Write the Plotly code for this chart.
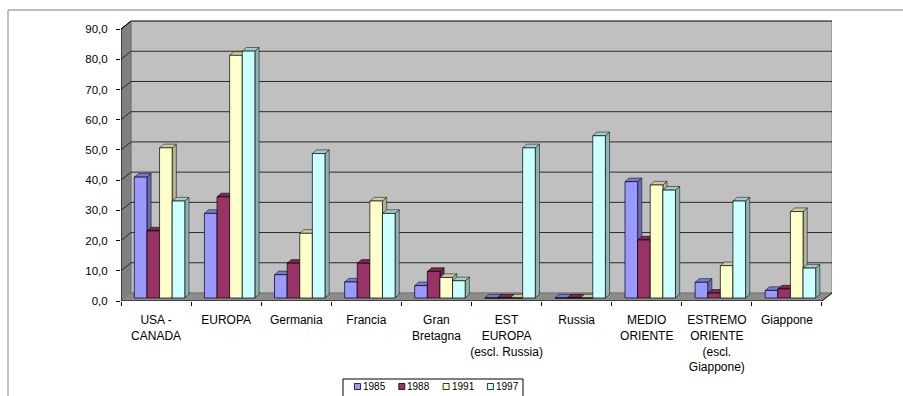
import plotly.graph_objects as go

categories = ["USA -<br>CANADA", "EUROPA", "Germania", "Francia", "Gran<br>Bretagna",
              "EST<br>EUROPA<br>(escl. Russia)", "Russia", "MEDIO<br>ORIENTE",
              "ESTREMO<br>ORIENTE<br>(escl.<br>Giappone)", "Giappone"]
years = ["1985", "1988", "1991", "1997"]
v1985 = [40.0, 28.0, 7.7, 5.3, 4.1, 0.0, 0.0, 38.5, 5.2, 2.5]
v1988 = [22.2, 33.5, 11.5, 11.5, 8.8, 0.0, 0.0, 19.2, 1.6, 3.0]
v1991 = [49.7, 80.3, 21.4, 32.1, 6.8, 0.0, 0.0, 37.4, 10.7, 28.6]
v1997 = [32.1, 81.7, 47.8, 28.0, 5.7, 49.7, 53.7, 35.7, 32.1, 9.9]
y_ticks = [0, 10, 20, 30, 40, 50, 60, 70, 80, 90]

series = [v1985, v1988, v1991, v1997]
front = ["#9999FF", "#993366", "#FFFFCC", "#CCFFFF"]
side = ["#6B6BB3", "#6B2447", "#B3B38F", "#8FB3B3"]
top = ["#7A7ACC", "#7A2952", "#CCCCA3", "#A3CCCC"]

W, H = 903, 396
ML, MR, MT, MB = 121, 71, 20, 95
PW, PH = W - ML - MR, H - MT - MB


def px_x(p):
    return (p - ML) / PW


def px_y(p):
    return (H - MB - p) / PH


# 3D styling constants (axis units)
WDX, WDY = 0.143, 2.65      # wall depth
BDX, BDY = 0.06, 1.2        # bar depth
BASE, SHIFT, BW = 1.0, 0.05, 0.18
n = len(categories)

fig = go.Figure()
shapes = []
annotations = []

# walls / floor
shapes.append(dict(type="rect", xref="x", yref="y", x0=-0.5 + WDX, x1=n - 0.5 + WDX, y0=WDY, y1=90 + WDY,
                   fillcolor="#C0C0C0", line=dict(color="#808080", width=1), layer="below"))
shapes.append(dict(type="path", xref="x", yref="y",
                   path=f"M{-0.5},0 L{-0.5 + WDX},{WDY} L{-0.5 + WDX},{90 + WDY} L{-0.5},90 Z",
                   fillcolor="#808080", line=dict(color="#606060", width=0.5), layer="below"))
shapes.append(dict(type="path", xref="x", yref="y",
                   path=f"M{-0.5},0 L{n - 0.5},0 L{n - 0.5 + WDX},{WDY} L{-0.5 + WDX},{WDY} Z",
                   fillcolor="#8C8C8C", line=dict(color="#606060", width=0.5), layer="below"))
for t in y_ticks[1:]:
    shapes.append(dict(type="line", xref="x", yref="y", x0=-0.5 + WDX, x1=n - 0.5 + WDX, y0=t + WDY, y1=t + WDY,
                       line=dict(color="#2a2a2a", width=1), layer="below"))
    shapes.append(dict(type="line", xref="x", yref="y", x0=-0.5, x1=-0.5 + WDX, y0=t, y1=t + WDY,
                       line=dict(color="#2a2a2a", width=1), layer="below"))
# axis lines
shapes.append(dict(type="line", xref="x", yref="y", x0=-0.5, x1=-0.5, y0=0, y1=90,
                   line=dict(color="#000000", width=1), layer="above"))
shapes.append(dict(type="line", xref="x", yref="y", x0=-0.5, x1=n - 0.5, y0=0, y1=0,
                   line=dict(color="#000000", width=1), layer="above"))
shapes.append(dict(type="line", xref="x", yref="y", x0=n - 0.5, x1=n - 0.5 + WDX, y0=0, y1=WDY,
                   line=dict(color="#000000", width=1), layer="above"))
shapes.append(dict(type="line", xref="x", yref="y", x0=-0.5, x1=-0.5 + WDX, y0=90, y1=90 + WDY,
                   line=dict(color="#000000", width=1), layer="above"))

# side and top faces of bars
for i in range(n):
    for k, vals in enumerate(series):
        v = vals[i]
        xc = i + SHIFT + (k - 1.5) * BW
        xl, xr = xc - BW / 2, xc + BW / 2
        yt = BASE + v
        shapes.append(dict(type="path", xref="x", yref="y",
                           path=f"M{xr},{BASE} L{xr + BDX},{BASE + BDY} L{xr + BDX},{yt + BDY} L{xr},{yt} Z",
                           fillcolor=side[k], line=dict(color="#000000", width=0.5), layer="between"))
        shapes.append(dict(type="path", xref="x", yref="y",
                           path=f"M{xl},{yt} L{xl + BDX},{yt + BDY} L{xr + BDX},{yt + BDY} L{xr},{yt} Z",
                           fillcolor=top[k], line=dict(color="#000000", width=0.5), layer="between"))

for k, vals in enumerate(series):
    fig.add_trace(go.Bar(
        name=years[k],
        x=[i + SHIFT + (k - 1.5) * BW for i in range(n)],
        y=vals, base=BASE, width=BW,
        marker=dict(color=front[k], line=dict(color="#000000", width=0.7)),
        showlegend=False,
    ))

# outer chart frame
shapes.append(dict(type="rect", xref="paper", yref="paper", x0=px_x(8), x1=px_x(960), y0=px_y(460), y1=px_y(10),
                   line=dict(color="#808080", width=1), fillcolor="rgba(0,0,0,0)", layer="above"))

# legend (box, swatches, labels)
shapes.append(dict(type="rect", xref="paper", yref="paper", x0=px_x(343), x1=px_x(523), y0=px_y(400), y1=px_y(379),
                   line=dict(color="#000000", width=1), fillcolor="white", layer="above"))
for k, yr in enumerate(years):
    sx = 354.5 + 44.3 * k
    shapes.append(dict(type="rect", xref="paper", yref="paper", x0=px_x(sx), x1=px_x(sx + 6),
                       y0=px_y(389.5), y1=px_y(383.5),
                       line=dict(color="#000000", width=0.8), fillcolor=front[k], layer="above"))
    annotations.append(dict(xref="paper", yref="paper", x=px_x(sx + 7.5), y=px_y(386.5), text=yr,
                            showarrow=False, xanchor="left", yanchor="middle",
                            font=dict(size=10, color="#000000"), borderpad=0))

fig.update_layout(
    width=W, height=H,
    margin=dict(l=ML, r=MR, t=MT, b=MB),
    paper_bgcolor="white", plot_bgcolor="white",
    barmode="overlay",
    separators=",.",
    font=dict(family="Liberation Sans, Arial, sans-serif", size=12, color="#000000"),
    shapes=shapes,
    annotations=annotations,
    showlegend=False,
    xaxis=dict(range=[-0.5, n - 0.5 + WDX], tickmode="array", tickvals=list(range(n)),
               ticktext=categories, ticks="outside", ticklen=8, tickcolor="rgba(0,0,0,0)",
               showgrid=False, zeroline=False, showline=False,
               tickfont=dict(size=12), automargin=False,
               minor=dict(tickmode="array", tickvals=[i - 0.5 for i in range(n + 1)], ticks="outside",
                          ticklen=4, tickcolor="#000000", showgrid=False)),
    yaxis=dict(range=[0, 93], tickmode="array", tickvals=y_ticks, tickformat=".1f",
               ticks="outside", ticklen=4, tickcolor="#000000", showgrid=False, zeroline=False,
               showline=False, tickfont=dict(size=11.5), ticklabelstandoff=6, automargin=False),
)

fig.write_html("out.html")
